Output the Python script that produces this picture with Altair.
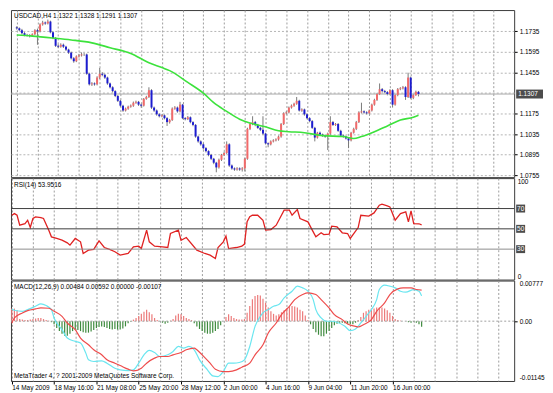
import altair as alt
import pandas as pd

# ---------------- data ----------------
closes = [1.1754, 1.1741, 1.1721, 1.1708, 1.1708, 1.1701, 1.1714, 1.1741, 1.1734, 1.1780,
          1.1793, 1.1787, 1.1800, 1.1727, 1.1688, 1.1635, 1.1629, 1.1642, 1.1629, 1.1609,
          1.1589, 1.1550, 1.1530, 1.1563, 1.1570, 1.1576, 1.1576, 1.1445, 1.1373, 1.1379,
          1.1373, 1.1419, 1.1445, 1.1438, 1.1419, 1.1379, 1.1353, 1.1327, 1.1294, 1.1261,
          1.1228, 1.1195, 1.1208, 1.1221, 1.1228, 1.1248, 1.1254, 1.1235, 1.1228, 1.1274,
          1.1287, 1.1333, 1.1215, 1.1195, 1.1169, 1.1156, 1.1162, 1.1143, 1.1116, 1.1130,
          1.1208, 1.1215, 1.1189, 1.1235, 1.1143, 1.1136, 1.1149, 1.1116, 1.1097, 1.1018,
          1.0985, 1.0965, 1.0939, 1.0919, 1.0893, 1.0867, 1.0840, 1.0808, 1.0860, 1.0893,
          1.0906, 1.0965, 1.0821, 1.0801, 1.0794, 1.0801, 1.0794, 1.0801, 1.0867, 1.1070,
          1.1103, 1.1116, 1.1097, 1.1077, 1.1064, 1.1038, 1.0972, 1.0965, 1.0985, 1.0992,
          1.0998, 1.1018, 1.1103, 1.1176, 1.1182, 1.1215, 1.1228, 1.1241, 1.1261, 1.1195,
          1.1202, 1.1169, 1.1143, 1.1123, 1.1077, 1.1011, 1.1044, 1.1031, 1.1024, 1.1018,
          1.1038, 1.1116, 1.1097, 1.1103, 1.1057, 1.1024, 1.1018, 1.1005, 1.0992, 1.1044,
          1.1070, 1.1116, 1.1182, 1.1189, 1.1182, 1.1176, 1.1195, 1.1235, 1.1267, 1.1307,
          1.1340, 1.1327, 1.1320, 1.1307, 1.1333, 1.1235, 1.1300, 1.1340, 1.1346, 1.1353,
          1.1287, 1.1419, 1.1281, 1.1300, 1.1322, 1.1307]

opens = [1.1760, 1.1754, 1.1741, 1.1721, 1.1708, 1.1708, 1.1701, 1.1714, 1.1741, 1.1734,
         1.1780, 1.1793, 1.1787, 1.1800, 1.1727, 1.1688, 1.1635, 1.1629, 1.1642, 1.1629,
         1.1609, 1.1589, 1.1550, 1.1530, 1.1563, 1.1570, 1.1576, 1.1576, 1.1445, 1.1373,
         1.1379, 1.1373, 1.1419, 1.1445, 1.1438, 1.1419, 1.1379, 1.1353, 1.1327, 1.1294,
         1.1261, 1.1228, 1.1195, 1.1208, 1.1221, 1.1228, 1.1248, 1.1254, 1.1235, 1.1228,
         1.1274, 1.1287, 1.1333, 1.1215, 1.1195, 1.1169, 1.1156, 1.1162, 1.1143, 1.1116,
         1.1130, 1.1208, 1.1215, 1.1189, 1.1235, 1.1143, 1.1136, 1.1149, 1.1116, 1.1097,
         1.1018, 1.0985, 1.0965, 1.0939, 1.0919, 1.0893, 1.0867, 1.0840, 1.0808, 1.0860,
         1.0893, 1.0906, 1.0965, 1.0821, 1.0801, 1.0794, 1.0801, 1.0794, 1.0801, 1.0867,
         1.1070, 1.1103, 1.1116, 1.1097, 1.1077, 1.1064, 1.1038, 1.0972, 1.0965, 1.0985,
         1.0992, 1.0998, 1.1018, 1.1103, 1.1176, 1.1182, 1.1215, 1.1228, 1.1241, 1.1261,
         1.1195, 1.1202, 1.1169, 1.1143, 1.1123, 1.1077, 1.1011, 1.1044, 1.1031, 1.1024,
         1.1018, 1.1038, 1.1116, 1.1097, 1.1103, 1.1057, 1.1024, 1.1018, 1.1005, 1.0992,
         1.1044, 1.1070, 1.1116, 1.1182, 1.1189, 1.1182, 1.1176, 1.1195, 1.1235, 1.1267,
         1.1307, 1.1340, 1.1327, 1.1320, 1.1307, 1.1333, 1.1235, 1.1300, 1.1340, 1.1346,
         1.1353, 1.1287, 1.1419, 1.1281, 1.1300, 1.1322]

highs = [1.1768, 1.1760, 1.1750, 1.1728, 1.1716, 1.1714, 1.1720, 1.1748, 1.1752, 1.1788,
         1.1805, 1.1800, 1.1813, 1.1806, 1.1733, 1.1694, 1.1645, 1.1652, 1.1650, 1.1635,
         1.1615, 1.1595, 1.1558, 1.1570, 1.1580, 1.1590, 1.1585, 1.1582, 1.1452, 1.1388,
         1.1386, 1.1428, 1.1484, 1.1456, 1.1446, 1.1425, 1.1385, 1.1360, 1.1333, 1.1300,
         1.1267, 1.1234, 1.1215, 1.1228, 1.1236, 1.1256, 1.1262, 1.1260, 1.1242, 1.1280,
         1.1295, 1.1353, 1.1340, 1.1222, 1.1202, 1.1176, 1.1170, 1.1168, 1.1150, 1.1138,
         1.1216, 1.1225, 1.1222, 1.1254, 1.1240, 1.1150, 1.1158, 1.1155, 1.1122, 1.1103,
         1.1024, 1.0992, 1.0972, 1.0946, 1.0925, 1.0900, 1.0873, 1.0846, 1.0868, 1.0900,
         1.0915, 1.0985, 1.0972, 1.0828, 1.0808, 1.0810, 1.0808, 1.0810, 1.0875, 1.1078,
         1.1112, 1.1156, 1.1124, 1.1104, 1.1084, 1.1156, 1.1044, 1.0978, 1.0992, 1.1000,
         1.1006, 1.1025, 1.1110, 1.1183, 1.1190, 1.1222, 1.1236, 1.1248, 1.1287, 1.1268,
         1.1210, 1.1208, 1.1175, 1.1150, 1.1130, 1.1084, 1.1050, 1.1052, 1.1038, 1.1031,
         1.1045, 1.1156, 1.1124, 1.1110, 1.1110, 1.1064, 1.1031, 1.1025, 1.1012, 1.1050,
         1.1078, 1.1124, 1.1190, 1.1248, 1.1196, 1.1190, 1.1202, 1.1242, 1.1275, 1.1315,
         1.1379, 1.1348, 1.1335, 1.1327, 1.1340, 1.1340, 1.1308, 1.1348, 1.1354, 1.1362,
         1.1360, 1.1452, 1.1426, 1.1308, 1.1330, 1.1328]

lows = [1.1745, 1.1735, 1.1712, 1.1700, 1.1698, 1.1692, 1.1695, 1.1708, 1.1642, 1.1726,
        1.1772, 1.1778, 1.1780, 1.1720, 1.1680, 1.1627, 1.1620, 1.1622, 1.1620, 1.1600,
        1.1580, 1.1542, 1.1520, 1.1524, 1.1555, 1.1562, 1.1566, 1.1438, 1.1365, 1.1362,
        1.1364, 1.1366, 1.1410, 1.1428, 1.1410, 1.1370, 1.1345, 1.1318, 1.1286, 1.1253,
        1.1220, 1.1186, 1.1188, 1.1200, 1.1214, 1.1220, 1.1240, 1.1226, 1.1215, 1.1222,
        1.1268, 1.1280, 1.1206, 1.1186, 1.1160, 1.1148, 1.1149, 1.1135, 1.1090, 1.1106,
        1.1124, 1.1200, 1.1180, 1.1182, 1.1136, 1.1128, 1.1130, 1.1108, 1.1088, 1.1010,
        1.0976, 1.0956, 1.0930, 1.0910, 1.0884, 1.0858, 1.0830, 1.0775, 1.0800, 1.0852,
        1.0885, 1.0900, 1.0812, 1.0792, 1.0785, 1.0786, 1.0785, 1.0780, 1.0781, 1.0860,
        1.1062, 1.1095, 1.1088, 1.1070, 1.1055, 1.1030, 1.0964, 1.0945, 1.0958, 1.0978,
        1.0985, 1.0990, 1.1010, 1.1096, 1.1168, 1.1175, 1.1208, 1.1220, 1.1234, 1.1188,
        1.1186, 1.1160, 1.1135, 1.1115, 1.1070, 1.0985, 1.1004, 1.1024, 1.1016, 1.1010,
        1.0926, 1.1030, 1.1090, 1.1090, 1.1050, 1.1016, 1.1010, 1.0998, 1.0939, 1.0985,
        1.1038, 1.1062, 1.1110, 1.1175, 1.1174, 1.1168, 1.1170, 1.1188, 1.1228, 1.1260,
        1.1300, 1.1318, 1.1312, 1.1298, 1.1300, 1.1215, 1.1228, 1.1292, 1.1333, 1.1338,
        1.1267, 1.1280, 1.1274, 1.1272, 1.1294, 1.1291]

ma_idx = [0, 6, 14, 21, 29, 36, 44, 51, 56, 59, 66, 72, 76, 81, 86, 90, 96, 101, 105,
          111, 118, 126, 130, 133, 138, 143, 148, 153, 155]
ma_val = [1.1708, 1.1701, 1.1688, 1.1675, 1.1655, 1.1622, 1.1583, 1.1520, 1.1487, 1.1466,
          1.1386, 1.1313, 1.1248, 1.1189, 1.1136, 1.1110, 1.1084, 1.1057, 1.1051, 1.1044,
          1.1024, 1.1018, 1.1005, 1.1018, 1.1051, 1.1090, 1.1130, 1.1149, 1.1162]

rsi_idx = [0, 1, 2, 3, 5, 6, 7, 8, 9, 11, 12, 14, 15, 17, 19, 21, 22, 24, 26, 27, 29, 31,
           33, 35, 37, 39, 41, 44, 46, 48, 49, 51, 52, 54, 57, 59, 60, 63, 64, 66, 70, 73,
           75, 77, 78, 80, 81, 82, 85, 87, 88, 89, 90, 91, 93, 95, 96, 98, 100, 103, 105,
           106, 108, 109, 112, 114, 115, 117, 118, 120, 121, 123, 125, 127, 128, 131, 132,
           135, 137, 139, 140, 142, 143, 145, 147, 149, 150, 151, 152, 154, 155]
rsi_val = [63.4, 65.0, 63.4, 53.6, 55.2, 58.5, 51.3, 60.2, 61.8, 61.1, 60.2, 48.7, 42.1,
           40.5, 38.8, 36.2, 33.9, 40.5, 37.2, 25.7, 29.0, 29.7, 38.2, 31.6, 29.7, 27.4,
           24.1, 25.7, 32.3, 32.9, 30.6, 48.7, 37.2, 32.9, 32.3, 31.6, 45.4, 48.7, 38.8,
           41.5, 29.0, 25.7, 24.1, 20.8, 31.6, 37.2, 42.8, 30.6, 31.6, 32.9, 35.0, 57.0,
           62.0, 63.4, 63.4, 58.5, 48.7, 49.3, 53.6, 68.4, 68.4, 63.4, 69.0, 60.2, 56.9,
           47.0, 42.1, 46.1, 44.4, 44.7, 52.6, 52.0, 46.1, 45.4, 40.5, 51.3, 63.4, 62.5,
           65.7, 73.3, 74.3, 72.6, 71.6, 58.5, 65.1, 66.7, 56.9, 67.7, 55.2, 55.0, 53.95]
rsi_levels = [70, 50, 30]

macd_idx = [0, 1, 4, 6, 9, 11, 13, 15, 16, 19, 21, 24, 26, 28, 29, 31, 34, 36, 39, 41,
            44, 46, 48, 50, 52, 54, 56, 59, 61, 63, 65, 67, 69, 71, 74, 76, 78, 80, 82, 84,
            86, 88, 90, 92, 94, 95, 97, 99, 101, 103, 106, 108, 110, 112, 114, 115, 117,
            119, 121, 123, 126, 128, 130, 132, 134, 136, 138, 139, 141, 143, 145, 147, 149,
            152, 154, 155]
macd_val = [0.00234, 0.00208, 0.00189, 0.00221, 0.00285, 0.00330, 0.00298, 0.00221, 0.00061,
            -0.00163, -0.00323, -0.00387, -0.00419, -0.00612, -0.00740, -0.00772, -0.00759,
            -0.00804, -0.00900, -0.00932, -0.00945, -0.00932, -0.00804, -0.00644, -0.00560,
            -0.00599, -0.00676, -0.00644, -0.00580, -0.00484, -0.00516, -0.00484, -0.00548,
            -0.00740, -0.00932, -0.01048, -0.01060, -0.00964, -0.00804, -0.00804, -0.00791,
            -0.00740, -0.00484, -0.00099, 0.00093, 0.00157, 0.00221, 0.00285, 0.00317,
            0.00445, 0.00573, 0.00670, 0.00637, 0.00573, 0.00413, 0.00221, 0.00061, -0.00002,
            -0.00002, -0.00022, -0.00099, -0.00182, -0.00150, -0.00035, 0.00093, 0.00221,
            0.00413, 0.00605, 0.00689, 0.00670, 0.00637, 0.00573, 0.00554, 0.00605, 0.00573,
            0.00484]

sig_idx = [0, 1, 4, 6, 9, 11, 14, 16, 19, 21, 24, 26, 29, 31, 34, 36, 39, 41, 44, 46, 49,
           51, 54, 56, 59, 61, 64, 66, 69, 70, 72, 75, 77, 80, 82, 85, 87, 90, 92, 95, 97,
           100, 102, 105, 107, 110, 112, 115, 117, 120, 122, 125, 127, 130, 131, 133, 136,
           138, 141, 143, 146, 148, 151, 153, 155]
sig_val = [-0.00040, 0.00061, 0.00157, 0.00202, 0.00234, 0.00253, 0.00247, 0.00189, 0.00093,
           -0.00035, -0.00163, -0.00323, -0.00452, -0.00548, -0.00644, -0.00740, -0.00804,
           -0.00849, -0.00919, -0.00951, -0.00900, -0.00804, -0.00708, -0.00676, -0.00676,
           -0.00644, -0.00599, -0.00548, -0.00516, -0.00548, -0.00644, -0.00804, -0.00919,
           -0.00964, -0.00964, -0.00932, -0.00881, -0.00804, -0.00644, -0.00452, -0.00227,
           -0.00035, 0.00125, 0.00285, 0.00413, 0.00509, 0.00541, 0.00509, 0.00413, 0.00253,
           0.00125, 0.00029, -0.00054, -0.00099, -0.00112, -0.00067, 0.00029, 0.00189,
           0.00349, 0.00509, 0.00618, 0.00637, 0.00637, 0.00605, 0.00592]

hist_val = [0.0024, 0.0024, 0.0021, 0.0004, 0.0003, 0.0002, 0.0002, 0.0003, 0.0004, 0.0005,
            0.0006, 0.0006, 0.0004, 0.0002, 0.0001, -0.0002, -0.0006, -0.0013, -0.0019, -0.0024,
            -0.0028, -0.0028, -0.0024, -0.0019, -0.0016, -0.0017, -0.0019, -0.0021, -0.0022, -0.0022,
            -0.0020, -0.0017, -0.0013, -0.0011, -0.0010, -0.0011, -0.0013, -0.0015, -0.0016, -0.0015,
            -0.0016, -0.0016, -0.0014, -0.0010, -0.0004, -0.0001, 0.0003, 0.0006, 0.0010, 0.0014,
            0.0018, 0.0022, 0.0017, 0.0013, 0.0006, 0.0002, 0.0000, -0.0003, -0.0005, -0.0003,
            0.0001, 0.0004, 0.0011, 0.0014, 0.0013, 0.0010, 0.0006, 0.0004, 0.0002, -0.0004,
            -0.0010, -0.0015, -0.0019, -0.0022, -0.0024, -0.0024, -0.0022, -0.0019, -0.0015, -0.0008,
            0.0000, 0.0008, 0.0013, 0.0010, 0.0006, 0.0004, 0.0003, 0.0003, 0.0004, 0.0016,
            0.0029, 0.0042, 0.0048, 0.0050, 0.0049, 0.0043, 0.0035, 0.0026, 0.0019, 0.0014,
            0.0011, 0.0013, 0.0017, 0.0021, 0.0024, 0.0027, 0.0029, 0.0028, 0.0026, 0.0022,
            0.0019, 0.0011, 0.0002, -0.0006, -0.0015, -0.0021, -0.0026, -0.0029, -0.0029, -0.0024,
            -0.0019, -0.0013, -0.0008, -0.0005, -0.0003, -0.0003, -0.0004, -0.0005, -0.0006, -0.0006,
            -0.0003, 0.0002, 0.0008, 0.0016, 0.0019, 0.0022, 0.0024, 0.0024, 0.0026, 0.0026,
            0.0026, 0.0024, 0.0021, 0.0016, 0.0010, 0.0004, 0.0002, 0.0001, 0.0000, 0.0000,
            -0.0002, -0.0003, -0.0001, -0.0003, -0.0006, -0.00107]

x_labels = ["14 May 2009", "18 May 16:00", "21 May 08:00", "25 May 20:00", "28 May 12:00",
            "2 Jun 00:00", "4 Jun 16:00", "9 Jun 04:00", "11 Jun 20:00", "16 Jun 00:00"]
price_ticks = [1.0755, 1.0895, 1.1035, 1.1175, 1.1315, 1.1455, 1.1595, 1.1735]
current_price = [1.1307]
current_label = ["1.1307"]
macd_ticks = [0.00777, 0.0, -0.01145]
macd_tick_labels = ["0.00777", "0.00", "-0.01145"]

main_title = "USDCAD,H4  1.1322  1.1328  1.1291  1.1307"
rsi_title = "RSI(14) 53.9516"
macd_title = "MACD(12,26,9) 0.00484 0.00592 0.00000 -0.00107"
copyright_text = "MetaTrader 4, ? 2001-2009 MetaQuotes Software Corp."

# ---------------- styling ----------------
FONT = "Liberation Sans"
FS = 6.5
W = 506
H1, H2, H3 = 168, 102, 101
GRID = "#b4b4b4"
XGRID = "#9c9c9c"
UP, DOWN, WICK = "#f26a6a", "#1c1cd0", "#7a7a7a"

idx = list(range(len(closes)))

xscale = alt.Scale(domain=[-0.3, 190.0], nice=False, zero=False)
grid_vals = list(range(0, 190, 8))
xaxis_grid = alt.Axis(values=grid_vals, grid=True, gridColor=XGRID, gridDash=[2, 2], gridWidth=1,
                      gridOpacity=1, labels=False, ticks=False, domain=False, title=None)
lab_js = "[" + ",".join("'%s'" % s for s in x_labels) + "]"
last_lab = 16 * (len(x_labels) - 1)
xaxis_bottom = alt.Axis(
    values=grid_vals, grid=True, gridColor=XGRID, gridDash=[2, 2], gridWidth=1, gridOpacity=1,
    domain=False, title=None,
    labelExpr=f"(datum.value % 16 == 0 && datum.value <= {last_lab}) ? {lab_js}[datum.value / 16] : ''",
    labelAlign="left", labelBaseline="top", labelPadding=1, labelFlush=False,
    labelOverlap=False, labelBound=False, labelFont=FONT, labelFontSize=FS, labelColor="black",
    ticks=True, tickSize=3, tickColor="black",
    tickOpacity={"condition": {"test": f"datum.value % 16 == 0 && datum.value <= {last_lab}", "value": 1}, "value": 0},
)


def X(ax):
    return alt.X("i:Q", scale=xscale, axis=ax)


# ---------------- main price panel ----------------
yscale_main = alt.Scale(domain=[1.0742, 1.1878], nice=False, zero=False)
yaxis_main = alt.Axis(
    orient="right", values=price_ticks, grid=True, gridColor=GRID, gridDash=[2, 2],
    labelExpr="abs(datum.value - 1.1315) < 0.00001 ? '' : format(datum.value, '.4f')",
    tickSize=3, tickColor="black",
    tickOpacity={"condition": {"test": "abs(datum.value - 1.1315) < 0.00001", "value": 0}, "value": 1},
    labelPadding=2, labelFont=FONT, labelFontSize=FS, labelColor="black", labelOverlap=False,
    labelFlush=False, domain=False, title=None,
)

df = pd.DataFrame({"i": idx, "o": opens, "h": highs, "l": lows, "c": closes})
df["dir"] = ["up" if c >= o else "down" for o, c in zip(opens, closes)]

cur_df = pd.DataFrame({"p": current_price, "lbl": current_label})

price_line = alt.Chart(cur_df).mark_rule(color="#a8a8a8", strokeWidth=1).encode(
    y=alt.Y("p:Q", scale=yscale_main, axis=yaxis_main))
wicks = alt.Chart(df).mark_rule(color=WICK, strokeWidth=1).encode(
    x=X(xaxis_grid), y=alt.Y("l:Q", scale=yscale_main, axis=yaxis_main), y2="h:Q")
bodies = alt.Chart(df).mark_bar(size=2).encode(
    x=X(xaxis_grid), y=alt.Y("o:Q", scale=yscale_main, axis=yaxis_main), y2="c:Q",
    color=alt.Color("dir:N", scale=alt.Scale(domain=["up", "down"], range=[UP, DOWN]), legend=None))
ma = alt.Chart(pd.DataFrame({"i": ma_idx, "v": ma_val})).mark_line(
    color="#3ce23c", strokeWidth=1.6, interpolate="monotone").encode(
    x=X(xaxis_grid), y=alt.Y("v:Q", scale=yscale_main, axis=yaxis_main))
price_box = alt.Chart(cur_df).mark_tick(orient="horizontal", color="black", size=27, thickness=9).encode(
    x=alt.value(W + 15.5), y=alt.Y("p:Q", scale=yscale_main, axis=yaxis_main))
price_txt = alt.Chart(cur_df).mark_text(align="left", baseline="middle", color="white",
                                        font=FONT, fontSize=FS).encode(
    x=alt.value(W + 4), y=alt.Y("p:Q", scale=yscale_main, axis=yaxis_main), text="lbl:N")
t_main = alt.Chart(pd.DataFrame({"t": [main_title]})).mark_text(
    align="left", baseline="middle", font=FONT, fontSize=FS, color="black").encode(
    x=alt.value(3), y=alt.value(5.5), text="t:N")

main = alt.layer(wicks, price_line, bodies, ma, price_box, price_txt, t_main).properties(
    width=W, height=H1)

# ---------------- RSI panel ----------------
rsi_scale = alt.Scale(domain=[0, 100], nice=False, zero=False)
rsi_axis = alt.Axis(orient="right", values=[0, 100], labelFlush=True, ticks=False, tickSize=0,
                    grid=False, labelPadding=3, domain=False, title=None,
                    labelFont=FONT, labelFontSize=FS, labelColor="black")
lv_df = pd.DataFrame({"lv": rsi_levels, "lbl": [str(v) for v in rsi_levels],
                      "kind": ["a", "a", "b"]})
rsi_rules = alt.Chart(lv_df).mark_rule(strokeWidth=1).encode(
    y=alt.Y("lv:Q", scale=rsi_scale, axis=rsi_axis),
    color=alt.Color("kind:N", scale=alt.Scale(domain=["a", "b"], range=["#3c3c3c", "#8c8c8c"]), legend=None))
rsi_line = alt.Chart(pd.DataFrame({"i": rsi_idx, "v": rsi_val})).mark_line(
    color="#e02222", strokeWidth=1.3).encode(
    x=X(xaxis_grid), y=alt.Y("v:Q", scale=rsi_scale, axis=rsi_axis))
rsi_box = alt.Chart(lv_df).mark_tick(orient="horizontal", color="black", size=9, thickness=8).encode(
    x=alt.value(W + 6.5), y=alt.Y("lv:Q", scale=rsi_scale, axis=rsi_axis))
rsi_box_txt = alt.Chart(lv_df).mark_text(align="center", baseline="middle", color="white",
                                         font=FONT, fontSize=FS).encode(
    x=alt.value(W + 6.5), y=alt.Y("lv:Q", scale=rsi_scale, axis=rsi_axis), text="lbl:N")
t_rsi = alt.Chart(pd.DataFrame({"t": [rsi_title]})).mark_text(
    align="left", baseline="middle", font=FONT, fontSize=FS, color="black").encode(
    x=alt.value(3), y=alt.value(7), text="t:N")

rsi = alt.layer(rsi_line, rsi_rules, rsi_box, rsi_box_txt, t_rsi).properties(width=W, height=H2)

# ---------------- MACD panel ----------------
macd_scale = alt.Scale(domain=[-0.01145, 0.00777], nice=False, zero=False)
macd_axis = alt.Axis(
    orient="right", values=macd_ticks,
    labelExpr=f"datum.value > 0.001 ? '{macd_tick_labels[0]}' : (datum.value < -0.001 ? '{macd_tick_labels[2]}' : '{macd_tick_labels[1]}')",
    labelFlush=True, tickSize=3, tickColor="black",
    tickOpacity={"condition": {"test": "abs(datum.value) < 0.0000001", "value": 1}, "value": 0},
    grid=False, labelPadding=2, domain=False, title=None,
    labelFont=FONT, labelFontSize=FS, labelColor="black", labelOverlap=False)

zero_df = pd.DataFrame({"z": [0.0]})
zero_line = alt.Chart(zero_df).mark_rule(color="#a0a0a0", strokeDash=[2, 2], strokeWidth=1).encode(
    y=alt.Y("z:Q", scale=macd_scale, axis=macd_axis))
hdf = pd.DataFrame({"i": idx, "h": hist_val})
hdf["sgn"] = ["pos" if v >= 0 else "neg" for v in hist_val]
hist = alt.Chart(hdf).mark_rule(strokeWidth=1.2).encode(
    x=X(xaxis_bottom), y=alt.Y("h:Q", scale=macd_scale, axis=macd_axis), y2=alt.datum(0),
    color=alt.Color("sgn:N", scale=alt.Scale(domain=["pos", "neg"], range=["#ec7a7a", "#3e8a3e"]), legend=None))
macd_line = alt.Chart(pd.DataFrame({"i": macd_idx, "v": macd_val})).mark_line(
    color="#6ae6f0", strokeWidth=1.2, interpolate="monotone").encode(
    x=X(xaxis_bottom), y=alt.Y("v:Q", scale=macd_scale, axis=macd_axis))
sig_line = alt.Chart(pd.DataFrame({"i": sig_idx, "v": sig_val})).mark_line(
    color="#ee4c4c", strokeWidth=1.2, interpolate="monotone").encode(
    x=X(xaxis_bottom), y=alt.Y("v:Q", scale=macd_scale, axis=macd_axis))
t_macd = alt.Chart(pd.DataFrame({"t": [macd_title]})).mark_text(
    align="left", baseline="middle", font=FONT, fontSize=FS, color="black").encode(
    x=alt.value(3), y=alt.value(6), text="t:N")
t_copy = alt.Chart(pd.DataFrame({"t": [copyright_text]})).mark_text(
    align="left", baseline="middle", font=FONT, fontSize=FS, color="black").encode(
    x=alt.value(3), y=alt.value(96), text="t:N")

macd = alt.layer(hist, zero_line, macd_line, sig_line, t_macd, t_copy).properties(width=W, height=H3)

chart = alt.vconcat(main, rsi, macd, spacing=1, bounds="flush").resolve_scale(
    color="independent", x="independent", y="independent"
).properties(
    padding=0, background="white"
).configure_view(stroke="#3a3a3a", strokeWidth=1).configure_axis(
    labelFont=FONT, labelFontSize=FS, labelColor="black")

chart.save("out.html", embed_options={"renderer": "svg", "actions": False})
